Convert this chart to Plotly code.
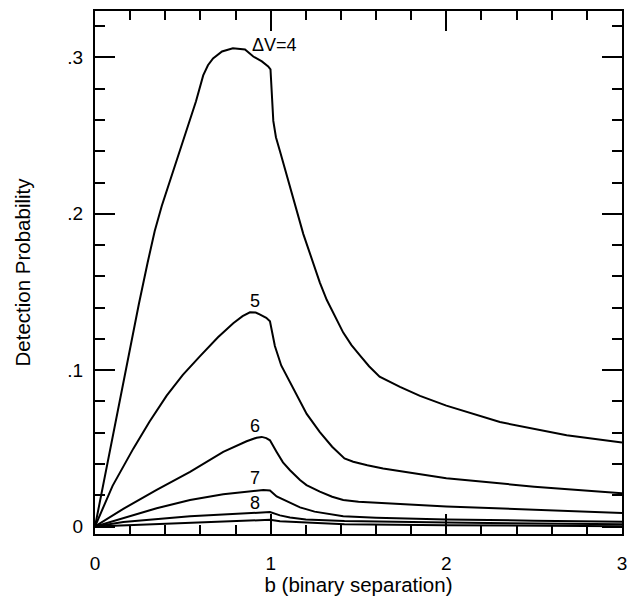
import plotly.graph_objects as go

# Data
x4 = [0, 0.104, 0.171, 0.25, 0.30, 0.34, 0.38, 0.42, 0.47, 0.522, 0.575, 0.616, 0.643, 0.672, 0.723,
      0.785, 0.854, 0.901, 0.95, 0.986, 0.999, 1.015, 1.03, 1.053, 1.11, 1.186, 1.28, 1.319, 1.413, 1.46,
      1.508, 1.56, 1.62, 1.68, 1.736, 1.85, 2.0, 2.305, 2.685, 3.0]
y4 = [0, 0.0595, 0.099, 0.1425, 0.169, 0.189, 0.205, 0.219, 0.236, 0.2535, 0.272, 0.2885, 0.295, 0.2994,
      0.3038, 0.3059, 0.3051, 0.3006, 0.2975, 0.2943, 0.2924, 0.2594, 0.249, 0.240, 0.217, 0.187, 0.156,
      0.145, 0.124, 0.116, 0.1095, 0.1025, 0.0958, 0.0922, 0.0893, 0.0835, 0.0773, 0.0668, 0.0583, 0.0537]

x5 = [0, 0.1, 0.218, 0.31, 0.408, 0.5, 0.598, 0.7, 0.787, 0.84, 0.882, 0.915, 0.94, 0.975, 0.996, 1.01,
      1.024, 1.06, 1.11, 1.167, 1.205, 1.28, 1.35, 1.42, 1.47, 1.55, 1.64, 2.0, 2.5, 3.0]
y5 = [0, 0.026, 0.0498, 0.067, 0.0837, 0.097, 0.109, 0.121, 0.130, 0.1345, 0.137, 0.1368, 0.1355, 0.1335,
      0.1313, 0.124, 0.1154, 0.103, 0.0922, 0.0795, 0.072, 0.0604, 0.051, 0.0435, 0.0414, 0.0392, 0.0371,
      0.0308, 0.0255, 0.0213]

x6 = [0, 0.161, 0.351, 0.541, 0.73, 0.863, 0.92, 0.949, 0.975, 0.996, 1.034, 1.07, 1.11, 1.167,
      1.204, 1.28, 1.35, 1.413, 1.5, 2.0, 3.0]
y6 = [0, 0.0112, 0.0234, 0.035, 0.0477, 0.0545, 0.0568, 0.0573, 0.0565, 0.0551, 0.0477, 0.041, 0.036,
      0.0297, 0.0265, 0.0223, 0.019, 0.017, 0.0158, 0.0128, 0.0086]

x7 = [0, 0.161, 0.351, 0.541, 0.73, 0.958, 0.996, 1.034, 1.11, 1.167, 1.25, 1.413, 1.6, 2.0, 2.5, 3.0]
y7 = [0, 0.0054, 0.0117, 0.017, 0.0206, 0.0234, 0.023, 0.0192, 0.0149, 0.0122, 0.0095, 0.0065, 0.0056,
      0.0045, 0.0037, 0.003]

x8 = [0, 0.161, 0.541, 0.8, 0.996, 1.053, 1.11, 1.2, 1.42, 2.0, 3.0]
y8 = [0, 0.0029, 0.0065, 0.0083, 0.0092, 0.0071, 0.0058, 0.0045, 0.0035, 0.0025, 0.0014]

x9 = [0, 0.541, 0.996, 1.053, 1.2, 1.42, 2.0, 3.0]
y9 = [0, 0.0025, 0.0043, 0.0033, 0.0025, 0.0015, 0.0008, 0.0002]

curve_x = [x4, x5, x6, x7, x8, x9]
curve_y = [y4, y5, y6, y7, y8, y9]

label_text = ["ΔV=4", "5", "6", "7", "8"]
label_x = [0.882, 0.911, 0.911, 0.911, 0.911]
label_y = [0.308, 0.144, 0.0643, 0.0312, 0.0149]
label_anchor = ["left", "center", "center", "center", "center"]

x_ticks = [0, 1, 2, 3]
x_ticktext = ["0", "1", "2", "3"]
y_ticks = [0, 0.1, 0.2, 0.3]
y_ticktext = ["0", ".1", ".2", ".3"]

FONT = "Liberation Sans, Arial, Helvetica, sans-serif"

fig = go.Figure()
for cx, cy in zip(curve_x, curve_y):
    fig.add_trace(go.Scatter(x=cx, y=cy, mode="lines",
                             line=dict(color="black", width=2, shape="linear"),
                             showlegend=False, hoverinfo="skip"))

for t, lx, ly, anc in zip(label_text, label_x, label_y, label_anchor):
    fig.add_annotation(x=lx, y=ly, text=t, showarrow=False,
                       font=dict(family=FONT, size=18, color="black"),
                       xanchor=anc, yanchor="middle")

axis_common = dict(showline=True, linecolor="black", linewidth=2, mirror="ticks",
                   ticks="inside", ticklen=20, tickwidth=1.5, tickcolor="black",
                   showgrid=False, zeroline=False,
                   tickfont=dict(family=FONT, size=19, color="black"))

fig.update_xaxes(range=[0, 3], tickmode="array", tickvals=x_ticks, ticktext=x_ticktext,
                 ticklabelstandoff=11,
                 minor=dict(tick0=0, dtick=0.2, ticks="inside", ticklen=9, tickwidth=1.5,
                            tickcolor="black", showgrid=False),
                 title=dict(text="b (binary separation)", standoff=7,
                            font=dict(family=FONT, size=20.5, color="black")),
                 **axis_common)
fig.update_yaxes(range=[-0.0048, 0.3297], tickmode="array", tickvals=y_ticks, ticktext=y_ticktext,
                 ticklabelstandoff=6,
                 minor=dict(tick0=0, dtick=0.02, ticks="inside", ticklen=10, tickwidth=1.5,
                            tickcolor="black", showgrid=False),
                 title=dict(text="Detection Probability", standoff=31,
                            font=dict(family=FONT, size=20.5, color="black")),
                 **axis_common)

# page body has an 8px margin, so the figure is shrunk by that amount
fig.update_layout(width=628, height=588, margin=dict(l=87, r=14, t=1, b=60),
                  plot_bgcolor="white", paper_bgcolor="white",
                  font=dict(family=FONT, color="black"))

fig.write_html("out.html")
